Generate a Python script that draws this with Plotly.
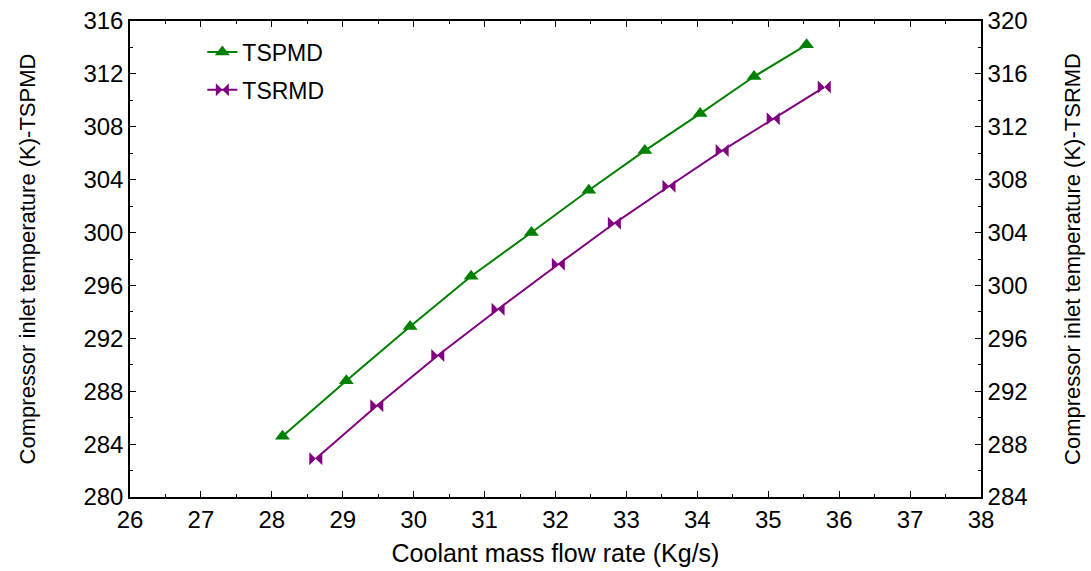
import plotly.graph_objects as go

flow_tspmd = [28.15, 29.05, 29.95, 30.81, 31.66, 32.47, 33.26, 34.04, 34.80, 35.54]
temp_tspmd = [284.6, 288.8, 292.9, 296.7, 300.0, 303.2, 306.2, 309.0, 311.8, 314.2]
flow_tsrmd = [28.62, 29.48, 30.34, 31.19, 32.04, 32.83, 33.60, 34.35, 35.07, 35.79]
temp_tsrmd = [286.9, 290.9, 294.7, 298.2, 301.6, 304.7, 307.5, 310.2, 312.6, 315.0]

FONT = "Liberation Sans"
GREEN = "#008000"
PURPLE = "#800080"

fig = go.Figure()
fig.add_trace(go.Scatter(
    x=flow_tspmd, y=temp_tspmd, name="TSPMD", mode="lines+markers",
    line=dict(color=GREEN, width=2),
    marker=dict(symbol="triangle-up", size=13, color=GREEN),
    legendgroup="a", yaxis="y"))
fig.add_trace(go.Scatter(
    x=flow_tsrmd, y=temp_tsrmd, name="TSRMD", mode="lines+markers",
    line=dict(color=PURPLE, width=2),
    marker=dict(symbol="bowtie", size=13, color=PURPLE),
    legendgroup="b", yaxis="y2"))

axis_common = dict(
    showline=True, linecolor="black", linewidth=1.5,
    ticks="inside", ticklen=6, tickwidth=1, tickcolor="black",
    showgrid=False, zeroline=False, automargin=False,
    tickfont=dict(family=FONT, size=24, color="black"),
)

fig.update_layout(
    width=1091, height=571,
    margin=dict(l=130, r=110, t=21, b=74),
    plot_bgcolor="white", paper_bgcolor="white",
    font=dict(family=FONT, size=22, color="black"),
    xaxis=dict(
        range=[26, 38], dtick=1, tick0=26, mirror="ticks",
        minor=dict(ticks="inside", ticklen=3, dtick=0.5, tickcolor="black"),
        title=dict(text="Coolant mass flow rate (Kg/s)", font=dict(family=FONT, size=25), standoff=13),
        **axis_common),
    yaxis=dict(
        range=[280, 316], dtick=4, tick0=280, mirror=True,
        minor=dict(ticks="inside", ticklen=3, dtick=2, tickcolor="black"),
        title=dict(text="Compressor inlet temperature (K)-TSPMD", font=dict(family=FONT, size=22), standoff=42),
        **axis_common),
    yaxis2=dict(
        range=[284, 320], dtick=4, tick0=284, overlaying="y", side="right",
        minor=dict(ticks="inside", ticklen=3, dtick=2, tickcolor="black"),
        title=dict(text="Compressor inlet temperature (K)-TSRMD", font=dict(family=FONT, size=22), standoff=38),
        **axis_common),
    legend=dict(
        x=0.085, y=0.98, xanchor="left", yanchor="top",
        bgcolor="rgba(0,0,0,0)", borderwidth=0,
        font=dict(family=FONT, size=23, color="black"),
        tracegroupgap=5,
    ),
    showlegend=True,
)

fig.write_html("out.html")
